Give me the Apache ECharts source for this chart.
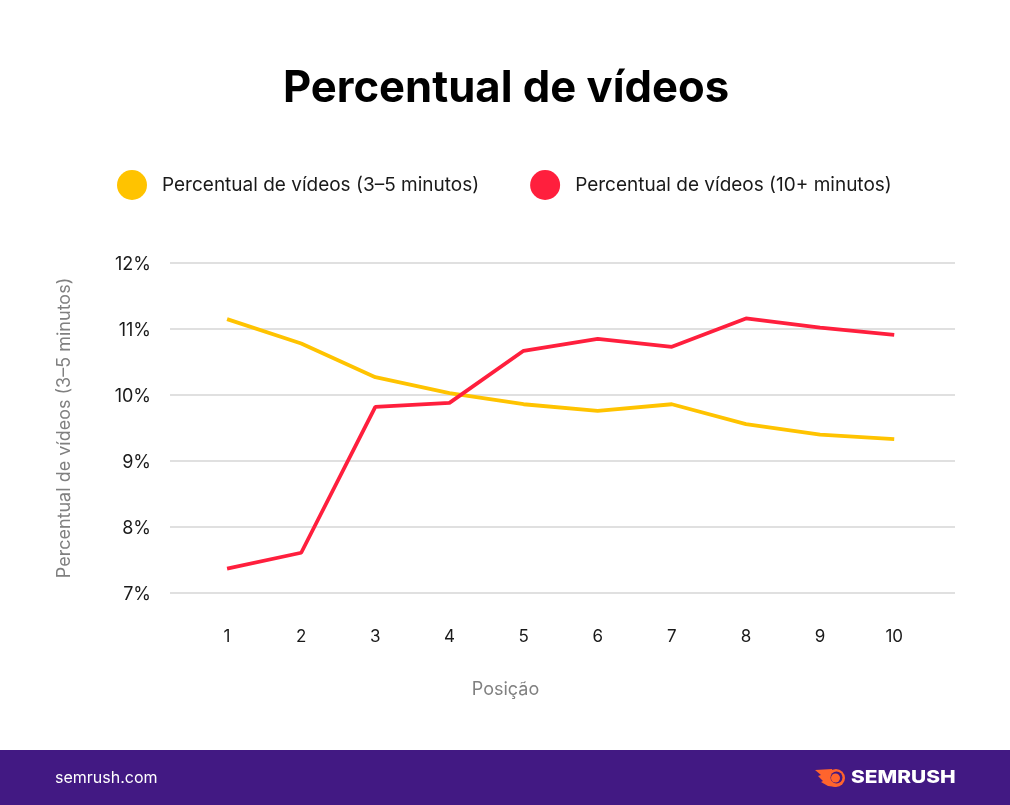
<!DOCTYPE html>
<html>
<head>
<meta charset="utf-8">
<style>
  html, body { margin: 0; padding: 0; background: #fff; }
  #chart { width: 1010px; height: 805px; }
</style>
</head>
<body>
<div id="chart"></div>
<script src="https://cdn.jsdelivr.net/npm/echarts@6/dist/echarts.min.js"></script>
<script>
let positions = [1, 2, 3, 4, 5, 6, 7, 8, 9, 10];
let shortVideos = [11.15, 10.78, 10.27, 10.03, 9.86, 9.76, 9.86, 9.56, 9.40, 9.33];
let longVideos = [7.37, 7.61, 9.82, 9.88, 10.67, 10.85, 10.73, 11.16, 11.02, 10.91];
let shortName = 'Percentual de vídeos (3–5 minutos)';
let longName = 'Percentual de vídeos (10+ minutos)';

let font = 'Inter';
let orange = '#ff642d';
let purple = '#421983';
let chart = echarts.init(document.getElementById('chart'));

// pair each position with its value, x is a value axis so the lines can run past the first/last point
let toPoints = (values) => values.map((v, i) => [positions[i], v]);

let option = {
  animation: false,
  backgroundColor: '#fff',
  title: {
    text: 'Percentual de vídeos',
    left: 501, top: 62, textAlign: 'center',
    textStyle: { fontFamily: font, fontSize: 43.6, fontWeight: 700, color: '#000' }
  },
  legend: {
    left: 112, top: 165, itemWidth: 30, itemHeight: 30, itemGap: 51,
    icon: 'circle',
    data: [shortName, longName],
    textStyle: { fontFamily: font, fontSize: 19, color: '#1a1a1a', padding: [0, 0, 0, 10] }
  },
  grid: { left: 170, right: 55, top: 263, height: 330 },
  xAxis: {
    type: 'value',
    min: 0.23, max: 10.82,
    name: 'Posição',
    nameLocation: 'middle',
    nameGap: 88,
    nameTextStyle: { fontFamily: font, fontSize: 18, color: '#808080', padding: [0, 114, 0, 0] },
    axisLine: { show: false },
    axisTick: { show: false },
    splitLine: { show: false },
    axisLabel: {
      fontFamily: font, fontSize: 17, color: '#1a1a1a', margin: 35,
      customValues: positions, showMinLabel: true, showMaxLabel: true
    }
  },
  yAxis: {
    type: 'value',
    min: 7, max: 12, interval: 1,
    name: shortName,
    nameLocation: 'middle',
    nameGap: 96,
    nameTextStyle: { fontFamily: font, fontSize: 18, color: '#808080' },
    axisLine: { show: false },
    axisTick: { show: false },
    axisLabel: {
      margin: 19,
      formatter: '{v|{value}%}',
      rich: { v: { fontFamily: font, fontSize: 18, color: '#1a1a1a', padding: [4, 0, 0, 0] } }
    },
    splitLine: { lineStyle: { color: '#e0e0e0', width: 2 } }
  },
  series: [
    { name: shortName, type: 'line', data: toPoints(shortVideos), symbol: 'none', itemStyle: { color: '#ffc300' }, lineStyle: { color: '#ffc300', width: 3.8 } },
    { name: longName, type: 'line', data: toPoints(longVideos), symbol: 'none', itemStyle: { color: '#ff1f3d' }, lineStyle: { color: '#ff1f3d', width: 3.8 } }
  ],
  graphic: [
    { type: 'rect', x: 0, y: 750, shape: { width: 1010, height: 55 }, style: { fill: purple } },
    { type: 'text', x: 55, y: 770, style: { text: 'semrush.com', fill: '#fff', font: '16px Inter' } },
    { type: 'text', x: 851, y: 769, scaleX: 1.16, style: { text: 'SEMRUSH', fill: '#fff', font: '800 18px Inter' } },
    // flame logo
    { type: 'polygon', shape: { points: [[815, 770], [832, 769], [836, 787], [828, 786], [821, 782], [823, 781], [818, 776], [821, 775]] }, style: { fill: orange } },
    { type: 'circle', shape: { cx: 836, cy: 778, r: 9 }, style: { fill: orange } },
    { type: 'circle', shape: { cx: 836.5, cy: 777.5, r: 6 }, style: { fill: purple } },
    { type: 'circle', shape: { cx: 835.5, cy: 778, r: 4.5 }, style: { fill: orange } }
  ]
};
chart.setOption(option);
</script>
</body>
</html>
